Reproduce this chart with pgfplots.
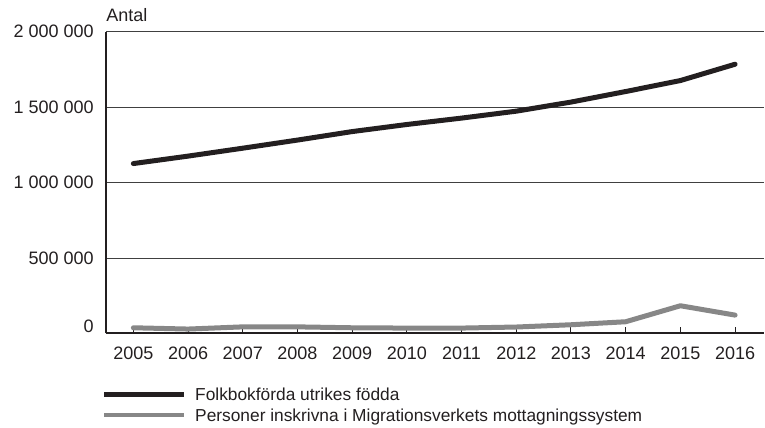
\documentclass[border=0pt]{standalone}
\usepackage{fontspec}
\setmainfont{Liberation Sans}
\usepackage{pgfplots}
\pgfplotsset{compat=1.18}
\definecolor{ink}{HTML}{231F20}
\definecolor{greyline}{HTML}{878787}
\newcommand{\fs}{\fontsize{13.5}{16}\selectfont}
\newcommand{\fsl}{\fontsize{13}{15.5}\selectfont}
\begin{document}
\begin{tikzpicture}
\begin{axis}[
  name=ax,
  scale only axis,
  width=493.1pt, height=226.2pt,
  xmin=2004.5, xmax=2016.52,
  ymin=0, ymax=2000000,
  clip=false,
  axis lines*=left,
  axis line style={-},
  x axis line style={line width=1.5pt, draw=ink},
  y axis line style={line width=0.8pt, draw=ink},
  /pgf/number format/assume math mode=true,
  xtick={2005,2006,2007,2008,2009,2010,2011,2012,2013,2014,2015,2016},
  x tick label style={/pgf/number format/1000 sep={}},
  xtick pos=bottom, ytick pos=left,
  tick align=inside,
  major tick length=5pt,
  x tick style={draw=ink, line width=0.75pt},
  y tick style={draw=none},
  xticklabel style={anchor=north, inner sep=0pt, yshift=-10pt, font=\fs, text=ink},
  ytick={500000,1000000,1500000,2000000},
  yticklabels={500 000,1 000 000,1 500 000,2 000 000},
  scaled y ticks=false,
  yticklabel style={anchor=east, inner sep=0pt, xshift=-9pt, font=\fs, text=ink},
  extra y ticks={0},
  extra y tick labels={0},
  extra y tick style={grid=none, yticklabel style={yshift=5pt}},
  ymajorgrids,
  grid style={draw=black!75, line width=0.6pt},
  legend cell align=left,
  legend image code/.code={%
    \draw[#1, line width=3.4pt, line cap=butt] (0pt,0pt) -- (60pt,0pt);},
  legend style={at={(0,0)}, anchor=north west, xshift=-3pt, yshift=-41.2pt,
    draw=none, fill=none, inner sep=0pt, outer sep=0pt,
    font=\fsl, text=ink, row sep=6pt, column sep=6.5pt,
    nodes={inner sep=0pt, text depth=0pt}},
]
\addplot[draw=ink, line width=3.75pt, line cap=round, line join=round] coordinates {
  (2005,1125790) (2006,1175200) (2007,1227770) (2008,1281581)
  (2009,1337965) (2010,1384929) (2011,1427296) (2012,1473256)
  (2013,1533493) (2014,1603551) (2015,1676264) (2016,1784497)};
\addlegendentry{Folkbokförda utrikes födda}
\addplot[draw=greyline, line width=3.75pt, line cap=round, line join=round] coordinates {
  (2005,37000) (2006,28500) (2007,43000) (2008,43000)
  (2009,37000) (2010,35000) (2011,35000) (2012,42000)
  (2013,57000) (2014,77000) (2015,183000) (2016,121000)};
\addlegendentry{Personer inskrivna i Migrationsverkets mottagningssystem}
\node[anchor=base west, inner sep=0pt, font=\fs, text=ink] at (rel axis cs:0,1) [yshift=7.3pt] {Antal};
\end{axis}
\pgfresetboundingbox
\useasboundingbox ([shift={(-79.5pt,-70.3pt)}]ax.south west) rectangle ([shift={(1.1pt,23.8pt)}]ax.north east);
\end{tikzpicture}
\end{document}
